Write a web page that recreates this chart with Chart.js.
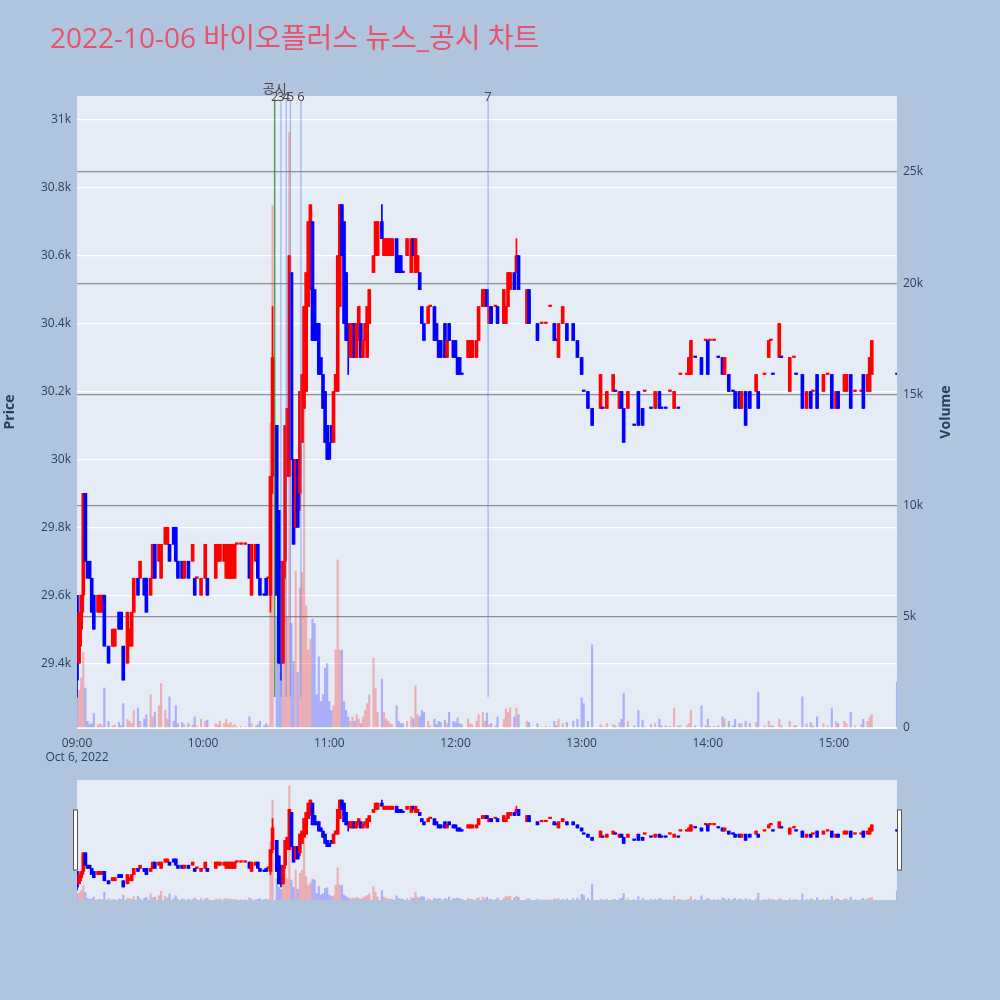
<!DOCTYPE html>
<html>
<head>
<meta charset="utf-8">
<script src="https://cdn.jsdelivr.net/npm/chart.js@4.4.1/dist/chart.umd.min.js"></script>
<style>
  html, body { margin: 0; padding: 0; background: #B0C4DE; }
  #page { position: relative; width: 1000px; height: 1000px; background: #B0C4DE; overflow: hidden;
          font-family: "Open Sans", "Noto Sans CJK KR", sans-serif; }
  #title { position: absolute; left: 50px; top: 23px; font-size: 28px; line-height: 28px; color: #E8526A;
           white-space: nowrap; z-index: 2; }
  #mainWrap { position: absolute; left: 0; top: 0; width: 1000px; height: 770px; }
  #sliderWrap { position: absolute; left: 0; top: 770px; width: 1000px; height: 140px; }
</style>
</head>
<body>
<div id="page">
  <div id="title">2022-10-06 바이오플러스 뉴스_공시 차트</div>
  <div id="mainWrap"><canvas id="main"></canvas></div>
  <div id="sliderWrap"><canvas id="slider"></canvas></div>
</div>
<script>
// minutes after 09:00, one entry per candle
const minutes = [
  0,1,2,3,4,5,6,7,8,10,
  11,12,13,15,17,18,20,21,22,24,
  25,26,27,29,30,32,33,35,36,37,
  39,40,42,43,44,46,47,48,50,51,
  53,55,56,57,59,61,62,66,67,68,
  70,71,72,73,74,75,76,78,80,82,
  83,85,86,87,89,90,91,92,93,95,
  96,97,98,99,100,101,102,103,104,105,
  106,107,108,109,110,111,112,113,114,115,
  116,117,118,119,120,121,122,123,124,125,
  126,127,128,129,130,131,132,133,134,135,
  136,137,138,139,141,142,143,145,146,147,
  148,149,150,152,153,154,155,157,159,160,
  161,162,163,164,165,167,168,170,171,172,
  173,175,176,177,179,180,181,182,183,186,
  187,188,190,191,193,194,195,196,197,199,
  200,203,204,205,206,208,209,210,214,215,
  219,221,223,225,227,228,229,231,233,236,
  238,240,241,243,245,249,250,252,255,256,
  258,259,260,262,265,267,269,270,273,275,
  277,278,280,282,284,286,287,290,291,292,
  294,297,299,300,301,303,305,307,308,310,
  312,313,315,316,318,320,323,324,327,329,
  330,331,334,335,339,341,342,345,347,349,
  350,352,355,357,359,361,362,365,366,368,
  370,373,374,376,377,378,390
];
const opens = [
  29600,29400,29500,29600,29900,29700,29700,29650,29600,29550,
  29550,29550,29600,29450,29450,29450,29550,29550,29450,29400,
  29450,29450,29550,29650,29650,29650,29650,29600,29650,29750,
  29700,29650,29750,29750,29750,29800,29800,29700,29700,29650,
  29700,29700,29650,29650,29600,29650,29650,29650,29700,29700,
  29700,29650,29650,29650,29650,29650,29750,29750,29750,29750,
  29600,29700,29750,29650,29600,29650,29650,29600,29950,30100,
  29850,29700,29400,29700,29950,29950,30550,30000,29800,30000,
  29900,30050,30150,30200,30450,30500,30700,30500,30400,30400,
  30300,30250,30200,30100,30050,30100,30050,30200,30200,30450,
  30750,30700,30550,30400,30300,30300,30400,30300,30350,30400,
  30300,30350,30300,30400,30550,30600,30600,30700,30600,30600,
  30600,30600,30600,30650,30600,30600,30550,30600,30550,30650,
  30550,30550,30550,30450,30400,30400,30450,30450,30400,30350,
  30350,30400,30300,30400,30350,30350,30300,30300,30250,30300,
  30300,30300,30300,30350,30450,30450,30500,30400,30450,30450,
  30450,30400,30400,30450,30500,30550,30550,30600,30400,30500,
  30400,30400,30400,30450,30400,30350,30300,30400,30400,30400,
  30350,30300,30200,30200,30150,30150,30150,30150,30200,30200,
  30150,30200,30150,30150,30100,30200,30150,30200,30150,30150,
  30200,30150,30150,30200,30150,30150,30250,30250,30250,30250,
  30300,30300,30350,30350,30350,30350,30300,30300,30250,30250,
  30200,30200,30200,30150,30200,30200,30200,30200,30250,30300,
  30350,30250,30300,30300,30200,30300,30250,30250,30150,30200,
  30200,30250,30200,30250,30250,30150,30200,30200,30200,30250,
  30200,30200,30250,30200,30200,30250,30250
];
const highs = [
  29600,29550,29600,29900,29900,29700,29700,29650,29600,29600,
  29600,29600,29600,29450,29500,29500,29550,29550,29450,29550,
  29500,29550,29650,29650,29700,29650,29650,29650,29750,29750,
  29750,29750,29800,29800,29750,29800,29800,29700,29700,29700,
  29700,29750,29650,29650,29650,29750,29650,29750,29750,29750,
  29750,29750,29750,29750,29750,29750,29750,29750,29750,29750,
  29750,29750,29750,29650,29600,29650,29650,29950,30450,30100,
  29850,29700,29700,30100,30150,30600,30550,30000,30000,30000,
  30200,30250,30450,30550,30700,30750,30700,30500,30400,30400,
  30300,30250,30200,30100,30050,30100,30200,30250,30600,30750,
  30750,30700,30550,30400,30400,30400,30400,30400,30450,30400,
  30350,30400,30450,30500,30600,30700,30700,30750,30650,30650,
  30650,30650,30650,30650,30600,30600,30550,30650,30650,30650,
  30650,30600,30550,30450,30400,30450,30450,30450,30400,30350,
  30350,30400,30350,30400,30350,30350,30300,30300,30250,30350,
  30350,30350,30350,30450,30500,30500,30500,30450,30450,30450,
  30450,30500,30450,30550,30550,30550,30650,30600,30500,30500,
  30400,30400,30400,30450,30400,30350,30400,30450,30400,30400,
  30350,30300,30200,30200,30150,30250,30150,30200,30250,30200,
  30200,30200,30150,30200,30100,30200,30150,30200,30150,30200,
  30200,30150,30150,30200,30200,30150,30250,30250,30300,30350,
  30300,30300,30350,30350,30350,30350,30300,30300,30300,30250,
  30200,30200,30200,30200,30200,30200,30250,30200,30250,30350,
  30350,30250,30400,30300,30300,30300,30250,30250,30200,30200,
  30200,30250,30250,30250,30250,30200,30200,30250,30250,30250,
  30200,30200,30250,30250,30300,30350,30250
];
const lows = [
  29300,29400,29450,29550,29700,29650,29650,29550,29500,29550,
  29550,29550,29450,29400,29450,29450,29500,29500,29350,29400,
  29450,29450,29550,29600,29650,29600,29550,29600,29650,29650,
  29700,29650,29750,29750,29700,29750,29700,29650,29650,29650,
  29650,29700,29600,29650,29600,29650,29600,29650,29700,29700,
  29700,29650,29650,29650,29650,29650,29750,29750,29750,29650,
  29600,29700,29650,29600,29600,29600,29650,29550,29900,29600,
  29400,29350,29400,29650,29950,29950,30000,29750,29800,29800,
  29850,30050,30150,30200,30450,30500,30350,30350,30350,30250,
  30250,30150,30050,30000,30000,30050,30050,30200,30200,30450,
  30600,30400,30350,30250,30300,30300,30300,30300,30350,30300,
  30300,30350,30300,30400,30550,30600,30600,30650,30600,30600,
  30600,30600,30600,30550,30550,30550,30550,30600,30550,30600,
  30550,30550,30500,30400,30350,30400,30450,30350,30350,30300,
  30300,30300,30300,30350,30300,30300,30250,30250,30250,30300,
  30300,30300,30300,30350,30450,30450,30450,30400,30400,30450,
  30400,30400,30400,30450,30500,30500,30550,30500,30400,30400,
  30350,30400,30400,30450,30350,30350,30300,30400,30350,30350,
  30300,30250,30200,30150,30100,30150,30150,30150,30200,30200,
  30150,30150,30050,30150,30100,30100,30100,30200,30150,30150,
  30150,30150,30150,30200,30150,30150,30250,30250,30250,30250,
  30300,30250,30350,30250,30350,30350,30300,30250,30250,30200,
  30200,30150,30150,30150,30100,30150,30200,30150,30250,30300,
  30350,30250,30300,30300,30200,30300,30250,30150,30150,30150,
  30200,30150,30200,30250,30150,30150,30150,30200,30200,30150,
  30200,30200,30150,30200,30200,30250,30250
];
const closes = [
  29350,29550,29600,29900,29700,29650,29650,29550,29500,29600,
  29600,29600,29450,29400,29500,29500,29500,29500,29350,29550,
  29500,29550,29650,29600,29700,29600,29550,29650,29750,29650,
  29750,29750,29800,29800,29700,29750,29700,29650,29650,29700,
  29650,29750,29600,29650,29650,29750,29600,29750,29750,29750,
  29750,29750,29750,29750,29750,29750,29750,29750,29750,29650,
  29750,29750,29650,29600,29600,29600,29650,29950,30300,29600,
  29400,29400,29700,30100,30150,30600,30000,29750,30000,29800,
  30200,30250,30450,30550,30700,30750,30350,30350,30350,30250,
  30250,30150,30050,30000,30000,30050,30200,30250,30600,30750,
  30600,30400,30350,30350,30400,30400,30300,30400,30450,30300,
  30350,30400,30450,30500,30600,30700,30700,30650,30650,30650,
  30650,30650,30650,30550,30550,30550,30550,30650,30650,30600,
  30650,30600,30500,30400,30350,30450,30450,30350,30350,30300,
  30300,30300,30350,30350,30300,30300,30250,30250,30250,30350,
  30350,30350,30350,30450,30500,30500,30450,30450,30400,30450,
  30400,30500,30450,30550,30550,30500,30600,30500,30500,30400,
  30350,30400,30400,30450,30350,30350,30400,30450,30350,30350,
  30300,30250,30200,30150,30100,30250,30150,30200,30250,30200,
  30200,30150,30050,30200,30100,30100,30100,30200,30150,30200,
  30150,30150,30150,30200,30200,30150,30250,30250,30300,30350,
  30300,30250,30350,30250,30350,30350,30300,30250,30300,30200,
  30200,30150,30150,30200,30100,30150,30250,30150,30250,30350,
  30350,30250,30400,30300,30300,30300,30250,30150,30200,30150,
  30200,30150,30250,30250,30150,30200,30150,30250,30250,30150,
  30200,30200,30150,30250,30300,30350,30250
];
const volumes = [
  1400,1700,2250,3400,1800,300,150,200,650,150,
  200,100,1800,300,100,150,250,100,1100,400,
  300,200,800,900,300,400,600,1500,500,700,
  1000,2000,800,400,1400,300,1000,200,250,150,
  200,150,500,100,400,300,350,200,150,300,
  200,400,150,250,100,150,50,80,50,500,
  200,100,150,300,100,200,100,13700,23500,5000,
  3000,2500,4000,7200,5000,26800,4700,3000,7050,2500,
  6300,7000,15800,5500,3500,4000,4900,4700,1500,3200,
  1200,1500,2700,2900,1200,800,1000,3500,7560,3500,
  3500,1200,800,500,300,500,300,600,400,200,
  500,800,1100,1500,3150,1800,700,2200,700,400,
  300,200,150,1000,300,200,200,300,500,400,
  1900,600,500,800,700,300,100,400,150,300,
  250,350,200,700,300,250,450,200,150,400,
  200,150,300,600,700,300,670,150,200,100,
  500,400,850,700,900,500,900,600,300,250,
  200,50,80,50,300,100,400,200,250,300,
  400,1350,1100,300,3740,150,50,200,150,100,
  250,400,1570,300,100,800,350,50,150,200,
  400,100,100,80,900,100,100,100,200,800,
  100,1000,100,400,80,80,100,500,400,300,
  100,400,200,200,300,200,250,1600,100,300,
  100,100,400,100,300,100,100,1400,200,250,
  100,500,200,100,900,300,200,300,200,700,
  100,150,400,300,500,600,2070
];

// news / disclosure markers (minutes after 09:00)
const newsMinutes = [94, 97, 99.5, 101.5, 106.5, 195.5];
const newsLabels = ['2', '3', '4', '5', '6', '7'];
const disclosureLabel = '공시';
const newsLineLow = 29300;
const newsLineHigh = 31060;

// axis ticks
const xTickValues = [0, 60, 120, 180, 240, 300, 360];
const xTickLabels = ['09:00', '10:00', '11:00', '12:00', '13:00', '14:00', '15:00'];
const dateLabel = 'Oct 6, 2022';
const priceTicks = [29400, 29600, 29800, 30000, 30200, 30400, 30600, 30800, 31000];
const priceTickLabels = ['29.4k', '29.6k', '29.8k', '30k', '30.2k', '30.4k', '30.6k', '30.8k', '31k'];
const volumeTicks = [0, 5000, 10000, 15000, 20000, 25000];
const volumeTickLabels = ['0', '5k', '10k', '15k', '20k', '25k'];
const axisTitles = { price: 'Price', volume: 'Volume' };

const RED = '#ff0000', BLUE = '#0000ff';
const FONT = '"Open Sans", "Noto Sans CJK KR", sans-serif';
Chart.defaults.font.family = FONT;

// candle direction: close vs open, ties follow the previous close
const rising = [];
for (let i = 0; i < minutes.length; i++) {
  let up;
  if (closes[i] > opens[i]) up = true;
  else if (closes[i] < opens[i]) up = false;
  else if (i > 0 && closes[i] > closes[i - 1]) up = true;
  else if (i > 0 && closes[i] < closes[i - 1]) up = false;
  else up = i > 0 ? rising[i - 1] : false;
  rising.push(up);
}
const candleColors = rising.map(up => up ? RED : BLUE);
const volColors = rising.map(up => up ? 'rgba(255,0,0,0.26)' : 'rgba(0,0,255,0.26)');

function makeDatasets(bodyW, wickW, volW) {
  return [
    {
      label: 'body', yAxisID: 'y', order: 0, grouped: false,
      data: minutes.map((m, i) => ({ x: m, y: [opens[i], closes[i]] })),
      backgroundColor: candleColors, borderWidth: 0, barThickness: bodyW, minBarLength: 1.5
    },
    {
      label: 'wick', yAxisID: 'y', order: 1, grouped: false,
      data: minutes.map((m, i) => ({ x: m, y: [lows[i], highs[i]] })),
      backgroundColor: candleColors, borderWidth: 0, barThickness: wickW
    },
    {
      label: 'volume', yAxisID: 'y1', order: 2, grouped: false,
      data: minutes.map((m, i) => ({ x: m, y: volumes[i] })),
      backgroundColor: volColors, borderWidth: 0, barThickness: volW
    }
  ];
}

function fixedTicks(values) {
  return s => { s.ticks = values.map(v => ({ value: v })); };
}

const plotBg = {
  id: 'plotBg',
  beforeDraw(chart) {
    const { ctx, chartArea: a } = chart;
    ctx.save();
    ctx.fillStyle = '#E5ECF6';
    ctx.fillRect(a.left, a.top, a.right - a.left, a.bottom - a.top);
    ctx.restore();
  }
};

const axisTitlePlugin = {
  id: 'axisTitles',
  afterDraw(chart) {
    const { ctx, chartArea: a } = chart;
    const mid = (a.top + a.bottom) / 2;
    ctx.save();
    ctx.fillStyle = '#2a3f5f';
    ctx.font = 'bold 14px ' + FONT;
    ctx.textAlign = 'center';
    ctx.textBaseline = 'middle';
    [[10, axisTitles.price], [a.right + 49, axisTitles.volume]].forEach(([px, t]) => {
      ctx.save();
      ctx.translate(px, mid);
      ctx.rotate(-Math.PI / 2);
      ctx.fillText(t, 0, 0);
      ctx.restore();
    });
    ctx.restore();
  }
};

const newsPlugin = {
  id: 'news',
  afterDatasetsDraw(chart) {
    const { ctx, scales: { x, y } } = chart;
    const y0 = y.getPixelForValue(newsLineLow), y1 = y.getPixelForValue(newsLineHigh);
    ctx.save();
    newsMinutes.forEach((m, i) => {
      const px = x.getPixelForValue(m);
      ctx.strokeStyle = i === 0 ? 'rgba(40,130,40,0.75)' : 'rgba(90,130,240,0.5)';
      ctx.lineWidth = i === 0 ? 1.5 : 1.3;
      ctx.beginPath();
      ctx.moveTo(px, y0);
      ctx.lineTo(px, y1);
      ctx.stroke();
    });
    ctx.fillStyle = '#444';
    ctx.font = '13px ' + FONT;
    ctx.textAlign = 'center';
    ctx.textBaseline = 'middle';
    newsMinutes.forEach((m, i) => {
      ctx.fillText(newsLabels[i], x.getPixelForValue(m), chart.chartArea.top + 1);
    });
    ctx.fillText(disclosureLabel, x.getPixelForValue(newsMinutes[0]), chart.chartArea.top - 7);
    ctx.restore();
  }
};

new Chart(document.getElementById('main'), {
  type: 'bar',
  data: { datasets: makeDatasets(3, 1, 1.5) },
  options: {
    responsive: true, maintainAspectRatio: false, animation: false,
    layout: { padding: { top: 96, left: 0, right: 0, bottom: 0 } },
    plugins: { legend: { display: false }, tooltip: { enabled: false } },
    scales: {
      x: {
        type: 'linear', min: 0, max: 390, offset: false,
        grid: { display: false, drawTicks: false, offset: false }, border: { display: false },
        afterBuildTicks: fixedTicks(xTickValues),
        ticks: {
          autoSkip: false, maxRotation: 0, padding: 8, color: '#2a3f5f', font: { size: 12 },
          callback: (v, i) => i === 0 ? [xTickLabels[0], dateLabel] : xTickLabels[i]
        },
        afterFit(s) { s.height = 42; }
      },
      y: {
        position: 'left', min: 29209, max: 31070,
        grid: { color: '#ffffff', lineWidth: 1.2, drawTicks: false }, border: { display: false },
        afterBuildTicks: fixedTicks(priceTicks),
        ticks: { autoSkip: false, padding: 6, color: '#2a3f5f', font: { size: 12 },
                 callback: (v, i) => priceTickLabels[i] },
        afterFit(s) { s.width = 77; }
      },
      y1: {
        position: 'right', min: 0, max: 28420,
        grid: {
          color: c => c.tick.value === 0 ? '#ffffff' : '#8f8f8f',
          lineWidth: c => c.tick.value === 0 ? 2 : 1.3, drawTicks: false
        },
        border: { display: false },
        afterBuildTicks: fixedTicks(volumeTicks),
        ticks: { autoSkip: false, padding: 6, color: '#2a3f5f', font: { size: 12 },
                 callback: (v, i) => volumeTickLabels[i] },
        afterFit(s) { s.width = 103; }
      }
    }
  },
  plugins: [plotBg, newsPlugin, axisTitlePlugin]
});

const sliderHandles = {
  id: 'handles',
  afterDraw(chart) {
    const { ctx, chartArea: a } = chart;
    const mid = (a.top + a.bottom) / 2;
    ctx.save();
    ctx.fillStyle = '#ffffff';
    ctx.strokeStyle = '#555';
    ctx.lineWidth = 1;
    [a.left - 3.5, a.right + 0.5].forEach(px => {
      ctx.fillRect(px, mid - 30, 4, 60);
      ctx.strokeRect(px, mid - 30, 4, 60);
    });
    ctx.restore();
  }
};

new Chart(document.getElementById('slider'), {
  type: 'bar',
  data: { datasets: makeDatasets(3, 1, 1.5) },
  options: {
    responsive: true, maintainAspectRatio: false, animation: false,
    layout: { padding: { top: 10, left: 77, right: 103, bottom: 10 } },
    plugins: { legend: { display: false }, tooltip: { enabled: false } },
    scales: {
      x: { type: 'linear', min: 0, max: 390, offset: false, display: false },
      y: { min: 29140, max: 31072, display: false },
      y1: { min: 0, max: 28200, display: false, position: 'right' }
    }
  },
  plugins: [plotBg, sliderHandles]
});
</script>
</body>
</html>
